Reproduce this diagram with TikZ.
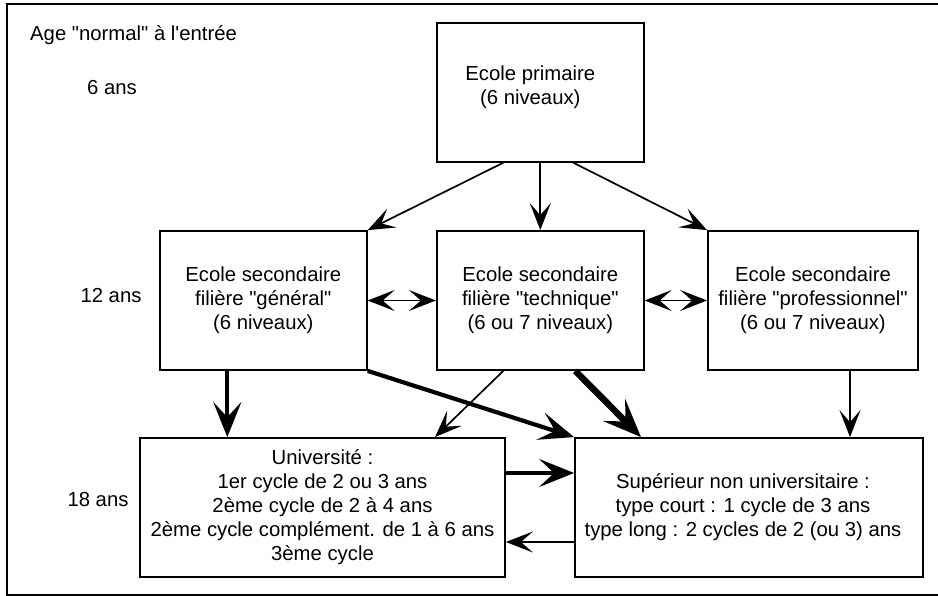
\documentclass[tikz,border=0pt]{standalone}
\usepackage{fontspec}
\setmainfont{Liberation Sans}[Ligatures=TeXOff]
\usetikzlibrary{arrows.meta,positioning}

\tikzset{
  box/.style={draw, line width=1.8pt, minimum width=207pt, minimum height=139pt, inner sep=0pt, align=center},
  fleche/.style={line width=1.7pt, -{Stealth[length=27pt,width=21pt,inset=12pt]}},
  double/.style={line width=1.7pt, {Stealth[length=27pt,width=21pt,inset=12pt]}-{Stealth[length=27pt,width=21pt,inset=12pt]}},
  grosse/.style={line width=4.2pt, -{Stealth[length=35pt,width=28pt,inset=15pt]}},
  tresgrosse/.style={line width=6.5pt, -{Stealth[length=38pt,width=31pt,inset=16pt]}},
  age/.style={inner sep=0pt}
}

\begin{document}
\begin{tikzpicture}[x=1pt,y=-1pt,font=\fontsize{20.3}{24}\selectfont]
		\useasboundingbox (0,0) rectangle (938,596);
		\draw[line width=2pt] (945,4) -- (7,4) -- (7,595) -- (945,595);
		% ages
		\node[age,anchor=west] (titre) at (30,35) {Age "normal" à l'entrée};
		\node[age] (age6) at (112,88) {6 ans};
		\node[age] (age12) at (111,296) {12 ans};
		\node[age] (age18) at (98,500) {18 ans};
		% ecoles
		\node[box] (prim) at (540.3,92.3) {};
		\node[align=center] (primtexte) at ([xshift=-10pt,yshift=5pt]prim.center) {Ecole primaire\\(6 niveaux)};
		\node[box] (gen) at (263.3,300.5) {Ecole secondaire\\filière "général"\\(6 niveaux)};
		\node[box] (tech) at (540.3,300.5) {Ecole secondaire\\filière "technique"\\(6 ou 7 niveaux)};
		\node[box,minimum width=210pt] (prof) at (813,300.5) {Ecole secondaire\\filière "professionnel"\\(6 ou 7 niveaux)};
		\node[box,minimum width=365pt] (uni) at (322.5,507.5) {Université :\\1er cycle de 2 ou 3 ans\\2ème cycle de 2 à 4 ans\\2ème cycle complément. de 1 à 6 ans\\3ème cycle};
		\node[box,minimum width=348pt] (sup) at (749,507.5) {};
		\node[align=center] (suptexte) at ([xshift=-6pt]sup.center) {Supérieur non universitaire :\\type court : 1 cycle de 3 ans\\type long : 2 cycles de 2 (ou 3) ans};
		% passages
		\draw[fleche] ([xshift=-37pt]prim.south) -- (gen.north east);
		\draw[fleche] (prim.south) -- (tech.north);
		\draw[fleche] ([xshift=33pt]prim.south) -- (prof.north west);
		\draw[double] (gen.east) -- (tech.west);
		\draw[double] (tech.east) -- (prof.west);
		\draw[grosse] ([xshift=-36pt]gen.south) -- ([xshift=-36pt]gen.south |- uni.north);
		\draw[grosse] (gen.south east) -- (sup.north west);
		\draw[fleche] ([xshift=-37pt]tech.south) -- ([xshift=112.5pt]uni.north);
		\draw[tresgrosse] ([xshift=35pt]tech.south) -- ([xshift=-108pt]sup.north);
		\draw[fleche] ([xshift=37pt]prof.south) -- ([xshift=37pt]prof.south |- sup.north);
		\draw[grosse] ([yshift=34.5pt]uni.east) -- ([yshift=34.5pt]uni.east -| sup.west);
		\draw[fleche] ([yshift=-34.5pt]sup.west) -- ([yshift=-34.5pt]sup.west -| uni.east);
		\end{tikzpicture}
\end{document}
